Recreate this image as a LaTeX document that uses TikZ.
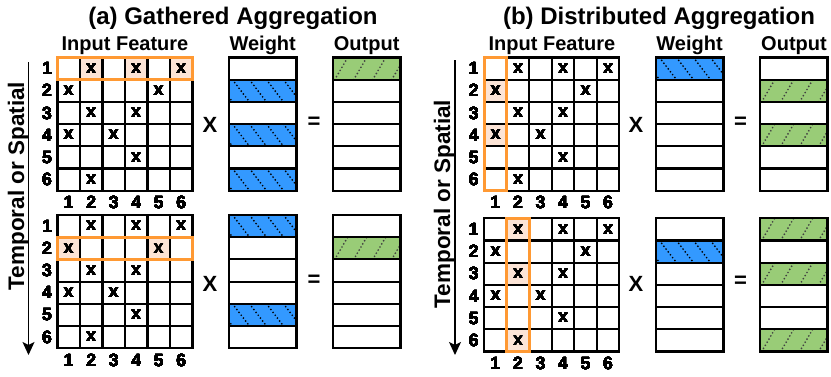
\documentclass[tikz,border=0pt]{standalone}
\usepackage{fontspec}
\setmainfont{Liberation Sans}
\usepackage{tikz}
\usetikzlibrary{arrows.meta}
\definecolor{AGBlue}{HTML}{3399FF}
\definecolor{AGGreen}{HTML}{99CC77}
\definecolor{AGOrange}{HTML}{FF9933}
\definecolor{AGPeach}{HTML}{FCE4D6}
\def\cellw{22.5}
\def\cellh{22.2}
\tikzset{
  gridline/.style={line width=2.1pt,line cap=rect},
  hilite/.style={draw=AGOrange,line width=3.3pt},
  hatchdots/.style={line width=1.9pt,line cap=round,dash pattern=on 0pt off 3.6pt,draw=black},
  cellx/.style={inner sep=0pt,font=\fontsize{18}{18}\selectfont\bfseries},
  numlbl/.style={inner sep=0pt,font=\fontsize{17.5}{17.5}\selectfont\bfseries},
  headlbl/.style={inner sep=0pt,anchor=base,font=\fontsize{20}{20}\selectfont\bfseries},
  paneltitle/.style={inner sep=0pt,anchor=base,font=\fontsize{24}{24}\selectfont\bfseries},
  opsym/.style={inner sep=0pt,font=\fontsize{22}{22}\selectfont\bfseries},
  axislbl/.style={inner sep=0pt,anchor=base,rotate=90,font=\fontsize{22.5}{22.5}\selectfont\bfseries},
  axisarrow/.style={line width=1.2pt,-{Stealth[length=13pt,width=12pt,inset=3pt]}}
}
% input feature matrix: grid, x marks, row and column numbers
\newcommand{\featmatrix}[3]{%
  \foreach \k in {0,...,6} {
    \draw[gridline] (#2,{#3+\k*\cellh}) -- ++({6*\cellw},0);
    \draw[gridline] ({#2+\k*\cellw},#3) -- ++(0,{6*\cellh});
  }
  \foreach \r/\c in {1/2,1/4,1/6,2/1,2/5,3/2,3/4,4/1,4/3,5/4,6/2}
    \node[cellx] (#1-x\r\c) at ({#2+(\c-0.5)*\cellw},{#3+(\r-0.5)*\cellh}) {x};
  \foreach \k in {1,...,6} {
    \node[numlbl] (#1-r\k) at ({#2-10.5},{#3+(\k-0.5)*\cellh}) {\k};
    \node[numlbl] (#1-c\k) at ({#2+(\k-0.5)*\cellw},{#3+6*\cellh+12}) {\k};
  }
}
% weight / output column of six rows
\newcommand{\vecbox}[2]{%
  \foreach \k in {0,...,6}
    \draw[gridline] (#1,{#2+\k*\cellh}) -- ++(67.5,0);
  \draw[gridline] (#1,#2) -- ++(0,{6*\cellh});
  \draw[gridline] ({#1+67.5},#2) -- ++(0,{6*\cellh});
}
\newcommand{\peach}[4]{%
  \fill[AGPeach] ({#1+(#4-1)*\cellw},{#2+(#3-1)*\cellh}) rectangle ++(\cellw,\cellh);
}
\newcommand{\wtrow}[3]{%
  \fill[AGBlue] (#1,{#2+(#3-1)*\cellh}) rectangle ++(67.5,\cellh);
  \begin{scope}
    \clip (#1,{#2+(#3-1)*\cellh}) rectangle ++(67.5,\cellh);
    \foreach \k in {-1,...,4}
      \draw[hatchdots] ({#1+3.5+\k*17},{#2+(#3-1)*\cellh}) -- ++(17,22.2);
  \end{scope}
}
\newcommand{\outrow}[3]{%
  \fill[AGGreen] (#1,{#2+(#3-1)*\cellh}) rectangle ++(67.5,\cellh);
  \begin{scope}
    \clip (#1,{#2+(#3-1)*\cellh}) rectangle ++(67.5,\cellh);
    \foreach \k in {-1,...,4}
      \draw[hatchdots,draw=black!75] ({#1+1.7+\k*19},{#2+#3*\cellh}) -- ++(13,-22.2);
  \end{scope}
}

\begin{document}
\begin{tikzpicture}[x=1pt,y=-1pt]
\path[use as bounding box] (0,0) rectangle (831,376);

% (a) gathered aggregation
\node[paneltitle] (titleA) at (233,24) {(a) Gathered Aggregation};
\node[headlbl] (inA) at (125,50) {Input Feature};
\node[headlbl] (wtA) at (262.7,50) {Weight};
\node[headlbl] (outA) at (366.7,50) {Output};
\node[axislbl] (axisA) at (24,186) {Temporal or Spatial};
\coordinate (axisAtop) at (28.5,62);
\coordinate (axisAend) at (28.5,355);
\draw[axisarrow] (axisAtop) -- (axisAend);

\foreach \c in {2,4,6} \peach{57.5}{57.5}{1}{\c}
\foreach \c in {1,5} \peach{57.5}{215}{2}{\c}
\foreach \r in {2,4,6} \wtrow{229}{57.5}{\r}
\foreach \r in {1,5} \wtrow{229}{215}{\r}
\outrow{333}{57.5}{1}
\outrow{333}{215}{2}
\featmatrix{fa}{57.5}{57.5}
\featmatrix{fb}{57.5}{215}
\vecbox{229}{57.5}
\vecbox{229}{215}
\vecbox{333}{57.5}
\vecbox{333}{215}
\draw[hilite] (57.5,57.5) rectangle ++({6*\cellw},\cellh);
\draw[hilite] (57.5,{215+\cellh}) rectangle ++({6*\cellw},\cellh);
\node[opsym] (timesA) at (210,125) {X};
\node[opsym] (eqA) at (314,123) {=};
\node[opsym] (timesAb) at (210,283.5) {X};
\node[opsym] (eqAb) at (314,281) {=};

% (b) distributed aggregation
\node[paneltitle] (titleB) at (659,24) {(b) Distributed Aggregation};
\node[headlbl] (inB) at (552,50) {Input Feature};
\node[headlbl] (wtB) at (689.5,50) {Weight};
\node[headlbl] (outB) at (794,50) {Output};
\node[axislbl] (axisB) at (450,204) {Temporal or Spatial};
\coordinate (axisBtop) at (455,60);
\coordinate (axisBend) at (455,355);
\draw[axisarrow] (axisBtop) -- (axisBend);

\foreach \r in {2,4} \peach{484.3}{57.5}{\r}{1}
\foreach \r in {1,3,6} \peach{484.3}{218.3}{\r}{2}
\wtrow{656}{57.5}{1}
\wtrow{656}{218.3}{2}
\foreach \r in {2,4} \outrow{760}{57.5}{\r}
\foreach \r in {1,3,6} \outrow{760}{218.3}{\r}
\featmatrix{fc}{484.3}{57.5}
\featmatrix{fd}{484.3}{218.3}
\vecbox{656}{57.5}
\vecbox{656}{218.3}
\vecbox{760}{57.5}
\vecbox{760}{218.3}
\draw[hilite] (484.3,57.5) rectangle ++(\cellw,{6*\cellh});
\draw[hilite] ({484.3+\cellw},218.3) rectangle ++(\cellw,{6*\cellh});
\node[opsym] (timesB) at (636,125) {X};
\node[opsym] (eqB) at (740.5,123) {=};
\node[opsym] (timesBb) at (636,284) {X};
\node[opsym] (eqBb) at (740.5,282) {=};
\end{tikzpicture}
\end{document}
